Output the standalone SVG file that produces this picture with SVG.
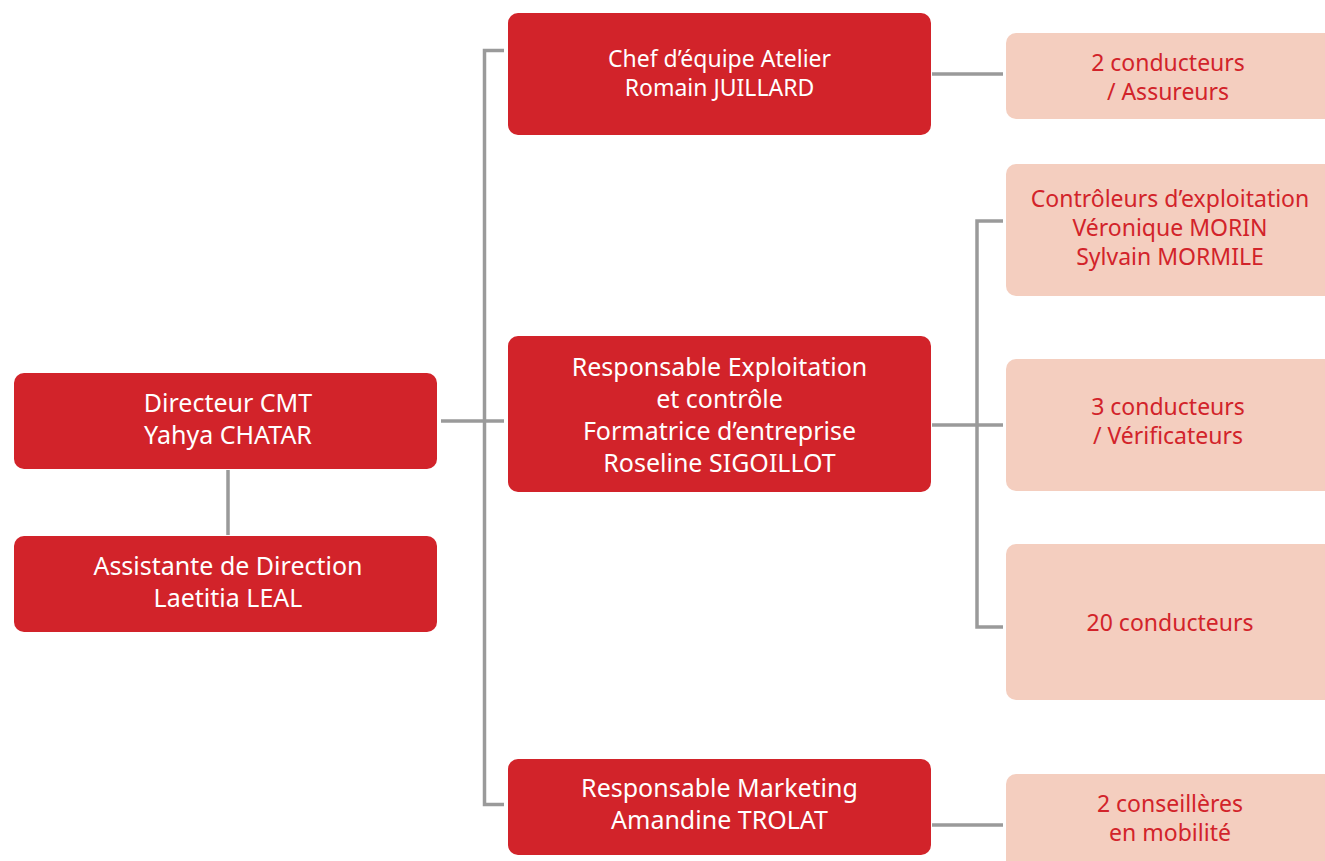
<svg xmlns="http://www.w3.org/2000/svg" width="1325" height="861" viewBox="0 0 1325 861">
<style>
.r{fill:#d2232a}
.p{fill:#f4cebf}
.tw{fill:#ffffff;font-family:"Noto Sans",sans-serif;font-size:25px;text-anchor:middle}
.tw.s{font-size:23px}
.tr{fill:#d2232a;font-family:"Noto Sans",sans-serif;font-size:23px;text-anchor:middle}
.c{stroke:#9a9a9a;stroke-width:3.5;fill:none}
</style>
<rect width="1325" height="861" fill="#ffffff"/>
<g id="connectors">
<line class="c" x1="228" y1="470" x2="228" y2="535"/>
<polyline class="c" points="504,50.5 484.5,50.5 484.5,804.5 504,804.5"/>
<line class="c" x1="441" y1="421" x2="504" y2="421"/>
<line class="c" x1="932" y1="74" x2="1003" y2="74"/>
<polyline class="c" points="1003,221 977,221 977,627 1003,627"/>
<line class="c" x1="932" y1="425" x2="1003" y2="425"/>
<line class="c" x1="932" y1="825" x2="1003" y2="825"/>
</g>
<g id="directeur">
<rect class="r" x="14" y="373" width="423" height="96" rx="10"/>
<text class="tw" x="228" y="412">Directeur CMT</text>
<text class="tw" x="228" y="444">Yahya CHATAR</text>
</g>
<g id="assistante">
<rect class="r" x="14" y="536" width="423" height="96" rx="10"/>
<text class="tw" x="228" y="575">Assistante de Direction</text>
<text class="tw" x="228" y="607">Laetitia LEAL</text>
</g>
<g id="chef-atelier">
<rect class="r" x="508" y="13" width="423" height="122" rx="10"/>
<text class="tw s" x="719.5" y="67">Chef d’équipe Atelier</text>
<text class="tw s" x="719.5" y="96">Romain JUILLARD</text>
</g>
<g id="resp-exploitation">
<rect class="r" x="508" y="336" width="423" height="156" rx="10"/>
<text class="tw" x="719.5" y="376">Responsable Exploitation</text>
<text class="tw" x="719.5" y="408">et contrôle</text>
<text class="tw" x="719.5" y="440">Formatrice d’entreprise</text>
<text class="tw" x="719.5" y="472">Roseline SIGOILLOT</text>
</g>
<g id="resp-marketing">
<rect class="r" x="508" y="759" width="423" height="96" rx="10"/>
<text class="tw" x="719.5" y="797">Responsable Marketing</text>
<text class="tw" x="719.5" y="829">Amandine TROLAT</text>
</g>
<g id="conducteurs-assureurs">
<rect class="p" x="1006" y="33" width="340" height="86" rx="10"/>
<text class="tr" x="1168" y="71">2 conducteurs</text>
<text class="tr" x="1168" y="100">/ Assureurs</text>
</g>
<g id="controleurs">
<rect class="p" x="1006" y="164" width="340" height="132" rx="10"/>
<text class="tr" x="1170" y="207">Contrôleurs d’exploitation</text>
<text class="tr" x="1170" y="236">Véronique MORIN</text>
<text class="tr" x="1170" y="265">Sylvain MORMILE</text>
</g>
<g id="conducteurs-verificateurs">
<rect class="p" x="1006" y="359" width="340" height="132" rx="10"/>
<text class="tr" x="1168" y="415">3 conducteurs</text>
<text class="tr" x="1168" y="444">/ Vérificateurs</text>
</g>
<g id="conducteurs-20">
<rect class="p" x="1006" y="544" width="340" height="156" rx="10"/>
<text class="tr" x="1170" y="631">20 conducteurs</text>
</g>
<g id="conseilleres">
<rect class="p" x="1006" y="774" width="340" height="120" rx="10"/>
<text class="tr" x="1170" y="812">2 conseillères</text>
<text class="tr" x="1170" y="841">en mobilité</text>
</g>
</svg>
